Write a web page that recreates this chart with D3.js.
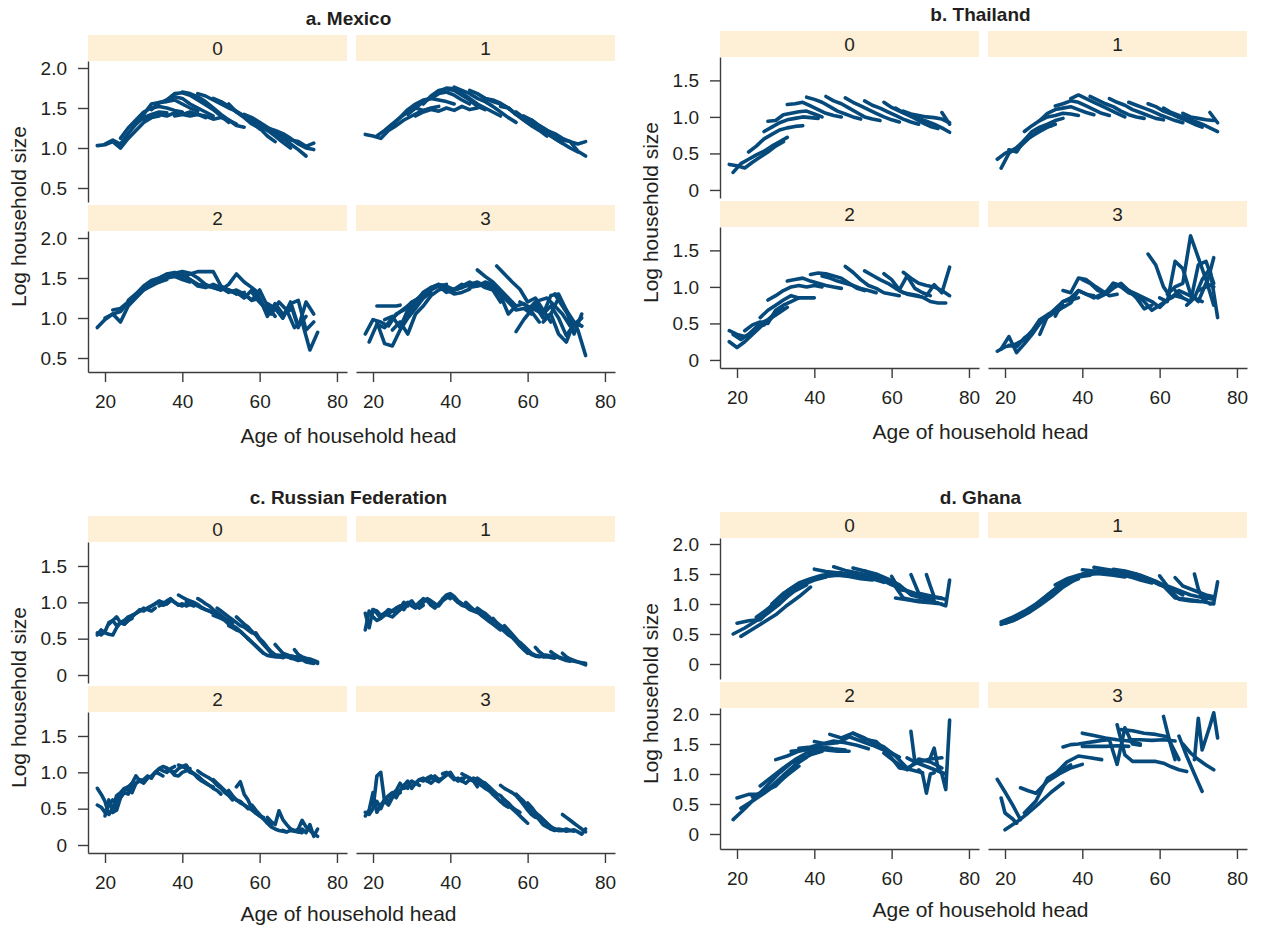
<!DOCTYPE html>
<html>
<head>
<meta charset="utf-8">
<script src="https://cdn.jsdelivr.net/npm/d3@7"></script>
<style>
body { margin:0; background:#fff; }
svg { display:block; }
text { font-family:"Liberation Sans", Arial, sans-serif; fill:#231f20; }
</style>
</head>
<body>
<div id="chart"></div>
<script>
// each line: [start age, age step, [log household size values]]
var mex0 = [
	[18,2,[1.03,1.04,1.08,1.00,1.12,1.22,1.32,1.38,1.40]],
	[20,2,[1.05,1.10,1.05,1.18,1.30,1.38,1.42,1.45,1.44]],
	[24,2,[1.12,1.25,1.35,1.45,1.50,1.52,1.50,1.47,1.45]],
	[28,2,[1.30,1.42,1.55,1.57,1.58,1.60,1.55,1.50,1.46]],
	[30,2,[1.36,1.38,1.42,1.40,1.44,1.42,1.40,1.42,1.38]],
	[32,2,[1.48,1.56,1.60,1.64,1.62,1.55,1.50,1.45,1.40]],
	[36,2,[1.60,1.68,1.69,1.66,1.60,1.54,1.48,1.40,1.32]],
	[38,2,[1.40,1.42,1.45,1.42,1.40,1.36,1.38,1.35,1.30]],
	[40,2,[1.70,1.68,1.64,1.58,1.50,1.42,1.35,1.28,1.26]],
	[44,2,[1.68,1.65,1.60,1.55,1.50,1.46,1.40,1.32,1.24]],
	[48,2,[1.62,1.58,1.52,1.45,1.38,1.30,1.25,1.15,1.08]],
	[52,2,[1.55,1.45,1.40,1.35,1.28,1.22,1.15,1.07,1.00]],
	[56,2,[1.42,1.38,1.32,1.26,1.20,1.12,1.05,0.98,0.90]],
	[58,2,[1.36,1.30,1.25,1.20,1.15,1.10,1.08,1.02,1.06]],
	[60,2,[1.30,1.25,1.22,1.18,1.12,1.05,1.00,0.98]]
];
var mex1 = [
	[18,2,[1.17,1.15,1.12,1.22,1.28,1.35,1.40,1.45,1.48]],
	[21,2,[1.15,1.22,1.30,1.38,1.45,1.50,1.47,1.50,1.52]],
	[25,2,[1.28,1.38,1.48,1.55,1.60,1.62,1.60,1.58,1.55]],
	[29,2,[1.42,1.50,1.58,1.62,1.68,1.70,1.66,1.60,1.55]],
	[31,2,[1.40,1.45,1.48,1.46,1.50,1.47,1.52,1.48,1.50]],
	[33,2,[1.55,1.65,1.72,1.74,1.72,1.66,1.60,1.52,1.48]],
	[37,2,[1.70,1.75,1.74,1.68,1.62,1.55,1.50,1.45,1.40]],
	[41,2,[1.76,1.72,1.68,1.62,1.58,1.52,1.45,1.38,1.32]],
	[45,2,[1.72,1.68,1.62,1.60,1.56,1.50,1.42,1.35,1.28]],
	[49,2,[1.62,1.58,1.55,1.50,1.42,1.35,1.28,1.22,1.15]],
	[53,2,[1.52,1.50,1.42,1.38,1.30,1.25,1.18,1.12,1.06]],
	[57,2,[1.45,1.38,1.32,1.25,1.20,1.12,1.06,1.00,0.95]],
	[59,2,[1.40,1.35,1.28,1.22,1.15,1.10,1.08,1.05,1.08]],
	[61,2,[1.35,1.28,1.22,1.18,1.12,1.08,0.96,0.90]]
];
var mex2 = [
	[18,2,[0.88,0.98,1.05,1.08,1.20,1.30,1.35,1.42,1.45]],
	[20,2,[1.00,1.05,0.95,1.15,1.25,1.35,1.40,1.45,1.48]],
	[22,2,[1.10,1.12,1.20,1.28,1.38,1.45,1.48,1.50,1.52]],
	[26,2,[1.22,1.30,1.40,1.47,1.50,1.55,1.52,1.48,1.45]],
	[30,2,[1.38,1.45,1.50,1.55,1.57,1.54,1.48,1.42,1.40]],
	[34,2,[1.45,1.50,1.56,1.58,1.56,1.50,1.42,1.38,1.35]],
	[38,2,[1.52,1.55,1.48,1.40,1.38,1.42,1.38,1.35,1.30]],
	[40,2,[1.50,1.55,1.58,1.58,1.58,1.40,1.35,1.30,1.32]],
	[44,2,[1.42,1.40,1.38,1.35,1.42,1.55,1.45,1.38,1.30]],
	[48,2,[1.40,1.38,1.32,1.35,1.30,1.22,1.35,1.15,1.02]],
	[52,2,[1.35,1.32,1.25,1.35,1.25,1.02,1.18,1.05,1.10]],
	[56,2,[1.30,1.22,1.25,1.05,1.15,1.00,1.20,0.90,1.02]],
	[58,2,[1.32,1.20,1.10,1.12,1.00,1.18,1.22,0.85,0.95]],
	[59,2,[1.25,1.15,1.05,1.20,1.10,0.88,0.95,0.60,0.82]],
	[62,2,[1.18,1.12,1.02,1.18,0.88,1.20,1.05]]
];
var mex3 = [
	[18,2,[0.80,0.98,0.95,0.90,1.05,1.10,1.20,1.25,1.30]],
	[19,2,[0.70,0.92,0.88,1.00,1.08,1.15,1.22,1.28]],
	[21,1,[1.15,1.15,1.15,1.15,1.15,1.15,1.16]],
	[21,2,[0.95,0.68,0.65,0.85,1.00,1.12,1.25,1.32]],
	[23,2,[0.98,1.02,0.88,1.10,1.20,1.32,1.38,1.40,1.42]],
	[25,2,[0.85,0.95,0.80,1.05,1.15,1.28,1.35,1.38]],
	[27,2,[0.90,1.05,1.15,1.25,1.35,1.40,1.32,1.35,1.38]],
	[29,2,[1.12,1.22,1.30,1.38,1.42,1.35,1.30,1.32,1.36]],
	[33,2,[1.30,1.38,1.42,1.40,1.35,1.38,1.42,1.45,1.40]],
	[37,2,[1.40,1.38,1.36,1.42,1.40,1.44,1.38,1.35,1.20]],
	[41,2,[1.35,1.40,1.45,1.40,1.42,1.38,1.28,1.05,1.15]],
	[45,2,[1.38,1.40,1.45,1.42,1.30,1.20,1.10,1.12,1.05]],
	[47,2,[1.60,1.52,1.45,1.35,1.25,1.15,1.18,1.08,0.95]],
	[52,2,[1.65,1.55,1.45,1.36,1.20,1.25,1.10,0.95]],
	[57,2,[0.83,0.98,1.10,1.22,1.25,1.15,1.05,0.90,0.95]],
	[58,2,[1.20,1.15,1.10,1.05,1.28,1.30,1.10,0.80,1.05]],
	[60,2,[1.10,1.20,1.05,1.15,1.00,0.78,0.92,1.00]],
	[62,2,[1.15,1.00,1.05,1.25,1.10,0.95,0.90]],
	[64,2,[0.95,1.05,0.80,0.70,0.95,0.90]],
	[67,2,[1.30,1.15,1.00,0.85,0.53]]
];

var tha0 = [
	[18,2,[0.35,0.33,0.30,0.38,0.45,0.52,0.60,0.66]],
	[19,2,[0.24,0.36,0.42,0.48,0.53,0.60,0.66,0.72]],
	[23,2,[0.52,0.60,0.70,0.76,0.82,0.85,0.87,0.88]],
	[27,2,[0.80,0.86,0.92,0.96,0.98,1.00,0.99,0.98]],
	[28,2,[0.94,0.95,1.03,1.05,1.07,1.08,1.04,1.00]],
	[33,2,[1.17,1.18,1.20,1.15,1.10,1.05,1.02,1.00]],
	[38,2,[1.27,1.24,1.20,1.14,1.08,1.04,1.00,0.97]],
	[43,2,[1.28,1.22,1.18,1.12,1.06,1.00,0.97,0.95]],
	[48,2,[1.26,1.20,1.15,1.10,1.05,1.00,0.96,0.93]],
	[53,2,[1.22,1.16,1.12,1.07,1.02,0.97,0.93,0.90]],
	[58,2,[1.20,1.13,1.08,1.03,0.98,0.92,0.87,0.84]],
	[61,2,[1.12,1.06,1.02,0.98,0.94,0.90,0.85,0.79]],
	[63,2,[1.08,1.04,1.02,1.00,0.99,0.97,0.92]],
	[73,2,[1.06,0.90]]
];
var tha1 = [
	[18,2,[0.42,0.50,0.55,0.60,0.70,0.78,0.85,0.88]],
	[19,2,[0.30,0.50,0.58,0.68,0.74,0.80,0.86,0.90]],
	[21,2,[0.55,0.52,0.68,0.80,0.86,0.90,0.95,0.98]],
	[25,2,[0.80,0.88,0.95,1.00,1.02,1.05,1.04,1.02]],
	[29,2,[0.95,1.05,1.10,1.12,1.14,1.10,1.06,1.03]],
	[33,2,[1.15,1.18,1.22,1.20,1.15,1.10,1.05,1.02]],
	[37,2,[1.25,1.30,1.25,1.20,1.15,1.10,1.05,1.00]],
	[42,2,[1.28,1.23,1.18,1.14,1.08,1.03,1.00,0.98]],
	[47,2,[1.25,1.20,1.16,1.10,1.06,1.02,0.98,0.96]],
	[52,2,[1.20,1.16,1.12,1.08,1.03,0.99,0.95,0.92]],
	[57,2,[1.18,1.14,1.08,1.04,0.99,0.95,0.90,0.86]],
	[61,2,[1.12,1.06,1.02,0.98,0.94,0.90,0.85,0.80]],
	[66,2,[1.05,1.00,0.98,0.96,0.95]],
	[73,2,[1.06,0.92]]
];
var tha2 = [
	[18,2,[0.40,0.35,0.32,0.38,0.50,0.55,0.62,0.70]],
	[18,2,[0.25,0.17,0.25,0.35,0.45,0.55,0.65,0.70]],
	[19,2,[0.35,0.28,0.35,0.45,0.48,0.58,0.65,0.72]],
	[22,2,[0.40,0.48,0.52,0.50,0.68,0.75,0.80,0.85]],
	[26,2,[0.58,0.68,0.75,0.82,0.88,0.85,0.85,0.85]],
	[28,2,[0.82,0.88,0.95,1.00,1.02,1.00,1.02,1.00]],
	[33,2,[1.08,1.10,1.12,1.08,1.05,1.02,1.00,0.98]],
	[39,2,[1.17,1.19,1.18,1.15,1.12,1.05,0.98,0.95]],
	[42,2,[1.15,1.12,1.08,1.05,1.02,0.98,0.95,0.92]],
	[48,2,[1.28,1.20,1.10,1.02,0.98,0.92,0.90,0.88]],
	[53,2,[1.22,1.16,1.10,1.05,0.98,0.92,0.90,0.88]],
	[58,2,[1.18,1.10,0.96,1.15,0.98,0.92,0.88]],
	[63,2,[1.20,1.12,1.05,1.02,1.00,0.95,0.88]],
	[62,2,[0.95,0.90,0.88,0.86,0.80,0.78,0.78]],
	[69,2,[0.88,1.03,0.92,1.27]]
];
var tha3 = [
	[18,2,[0.12,0.18,0.20,0.25,0.30,0.45,0.55,0.62]],
	[19,2,[0.15,0.32,0.10,0.22,0.35,0.50,0.60]],
	[21,2,[0.20,0.18,0.30,0.38,0.55,0.62,0.68,0.75]],
	[25,2,[0.28,0.40,0.55,0.60,0.70,0.80,0.82,0.85]],
	[29,2,[0.35,0.60,0.65,0.72,0.78,0.95,0.90,0.88]],
	[33,2,[0.60,0.80,0.85,0.95,0.90,0.85,0.90,0.95]],
	[35,2,[0.95,0.92,1.12,1.10,1.02,0.95,0.88,0.90]],
	[40,2,[1.10,1.05,0.95,0.92,1.05,1.02,0.95,0.88]],
	[44,2,[0.85,0.90,0.98,1.05,0.95,0.85,0.70,0.75]],
	[48,2,[1.05,1.00,0.92,0.88,0.80,0.68,0.75,0.82]],
	[52,2,[0.95,0.90,0.85,0.80,0.72,0.82,0.88,0.85]],
	[57,2,[1.45,1.30,1.00,0.85,0.95,0.90,0.85,0.80]],
	[60,2,[0.85,0.80,1.35,1.25,0.90,0.80,1.05,1.00]],
	[62,2,[0.90,1.00,1.05,1.70,1.40,1.10,0.75]],
	[64,2,[0.95,0.85,0.80,1.30,1.35,1.05]],
	[67,2,[0.75,0.85,1.10,1.25,0.58]],
	[70,2,[0.95,1.00,1.40]]
];

var rus0 = [
	[18,1,[0.58,0.55,0.60,0.72,0.75,0.68,0.72,0.75,0.80,0.82]],
	[18,1,[0.55,0.62,0.58,0.56,0.55,0.65,0.72,0.70,0.75,0.78]],
	[21,1,[0.70,0.75,0.80,0.72,0.70,0.75,0.80,0.85,0.88,0.90]],
	[24,1,[0.72,0.75,0.78,0.82,0.85,0.88,0.92,0.90,0.88,0.92]],
	[28,1,[0.85,0.90,0.88,0.92,0.95,0.98,1.00,0.96,0.98,1.02]],
	[31,1,[0.92,0.95,0.98,1.02,1.00,0.98,1.04,1.00,0.97,0.95]],
	[34,1,[0.95,0.98,1.02,1.05,1.00,0.96,0.98,0.95,0.97,0.95]],
	[39,1,[1.10,1.07,1.04,1.02,1.00,0.97,0.93,0.90,0.88,0.85]],
	[41,1,[1.00,0.98,0.97,0.95,0.92,0.90,0.88,0.85,0.82,0.80]],
	[44,1,[1.05,1.02,0.98,0.95,0.90,0.86,0.82,0.78,0.75,0.72]],
	[48,1,[0.82,0.80,0.78,0.75,0.70,0.68,0.65,0.60,0.55,0.50]],
	[49,1,[0.92,0.88,0.84,0.80,0.76,0.72,0.68,0.66,0.62,0.58]],
	[52,1,[0.68,0.65,0.62,0.60,0.55,0.50,0.45,0.40,0.35,0.30]],
	[54,1,[0.80,0.75,0.70,0.66,0.60,0.55,0.48,0.42,0.36,0.30]],
	[57,1,[0.50,0.45,0.40,0.35,0.30,0.27,0.26,0.25,0.25,0.24]],
	[59,1,[0.58,0.50,0.45,0.38,0.32,0.28,0.27,0.26,0.25,0.24]],
	[64,1,[0.42,0.36,0.30,0.28,0.26,0.25,0.24,0.22,0.21,0.20]],
	[65,1,[0.25,0.24,0.26,0.23,0.22,0.20,0.21,0.18,0.17,0.16]],
	[66,1,[0.28,0.27,0.26,0.25,0.24,0.22,0.21,0.20,0.18,0.16]],
	[69,1,[0.35,0.28,0.25,0.23,0.22,0.20,0.18]]
];
var rus1 = [
	[18,1,[0.85,0.65,0.90,0.88,0.82,0.85,0.90,0.88,0.92,0.95]],
	[18,1,[0.62,0.88,0.80,0.75,0.78,0.85,0.82,0.80,0.85,0.90]],
	[20,1,[0.90,0.85,0.78,0.82,0.85,0.88,0.85,0.92,1.00,0.95]],
	[24,1,[0.85,0.88,0.92,0.95,0.90,0.98,1.02,0.95,0.92,0.96]],
	[27,1,[0.90,0.95,1.00,0.95,0.92,0.96,1.00,1.05,1.02,0.98]],
	[31,1,[0.95,1.00,1.05,1.02,0.96,0.92,0.98,1.04,1.08,1.05]],
	[35,1,[1.00,0.98,0.95,1.02,1.06,1.10,1.05,1.00,0.98,0.95]],
	[38,1,[1.05,1.10,1.12,1.08,1.02,0.98,0.95,0.92,0.90,0.88]],
	[41,1,[1.05,1.00,0.96,0.94,0.90,0.88,0.86,0.83,0.80,0.76]],
	[44,1,[1.00,0.95,0.90,0.88,0.82,0.78,0.74,0.70,0.66,0.62]],
	[47,1,[0.92,0.88,0.85,0.80,0.75,0.72,0.65,0.60,0.55,0.52]],
	[51,1,[0.78,0.72,0.68,0.63,0.58,0.52,0.46,0.40,0.35,0.30]],
	[54,1,[0.68,0.62,0.56,0.50,0.44,0.38,0.32,0.28,0.26,0.25]],
	[58,1,[0.45,0.40,0.35,0.30,0.27,0.26,0.25,0.25,0.24,0.23]],
	[62,1,[0.38,0.32,0.28,0.27,0.26,0.25,0.24,0.22,0.20,0.19]],
	[66,1,[0.32,0.28,0.25,0.23,0.22,0.20,0.19,0.18,0.17,0.16]],
	[69,1,[0.30,0.25,0.22,0.20,0.18,0.16,0.14]]
];
var rus2 = [
	[18,1,[0.78,0.70,0.60,0.42,0.50,0.68,0.72,0.78,0.80,0.85]],
	[18,1,[0.55,0.52,0.45,0.55,0.62,0.58,0.70,0.75,0.78,0.82]],
	[20,1,[0.40,0.62,0.45,0.48,0.65,0.72,0.70,0.80,0.85,0.88]],
	[22,1,[0.45,0.55,0.65,0.75,0.80,0.72,0.85,0.90,0.88,0.92]],
	[26,1,[0.75,0.85,0.95,0.88,0.85,0.92,0.95,1.00,0.98,0.95]],
	[29,1,[0.88,0.90,0.95,0.92,1.00,1.05,1.02,1.00,1.05,1.08]],
	[33,1,[1.00,1.05,1.08,1.06,1.02,0.96,0.95,1.00,1.02,1.05]],
	[36,1,[1.05,1.02,1.00,1.05,1.08,1.10,1.02,0.98,0.95,0.90]],
	[39,1,[1.10,1.08,1.05,1.02,0.98,0.94,0.90,0.86,0.82,0.80]],
	[41,1,[1.05,1.00,0.98,0.92,0.88,0.85,0.82,0.78,0.75,0.70]],
	[44,1,[1.02,0.98,0.95,0.92,0.88,0.82,0.78,0.72,0.68,0.62]],
	[48,1,[0.90,0.85,0.80,0.75,0.70,0.65,0.62,0.58,0.55,0.50]],
	[52,1,[0.75,0.68,0.62,0.60,0.55,0.52,0.48,0.44,0.40,0.38]],
	[54,1,[0.80,0.87,0.70,0.62,0.50,0.44,0.40,0.36,0.32,0.28]],
	[58,1,[0.55,0.48,0.42,0.36,0.30,0.25,0.22,0.20,0.19,0.18]],
	[62,1,[0.38,0.32,0.28,0.47,0.35,0.28,0.22,0.19,0.18,0.17]],
	[66,1,[0.20,0.18,0.20,0.19,0.22,0.34,0.25,0.20,0.15,0.12]],
	[68,1,[0.22,0.20,0.18,0.22,0.17,0.28,0.12,0.22]]
];
var rus3 = [
	[18,1,[0.45,0.42,0.50,0.95,1.00,0.60,0.55,0.65,0.70,0.72]],
	[18,1,[0.40,0.48,0.72,0.45,0.55,0.62,0.58,0.70,0.75,0.72]],
	[20,1,[0.55,0.60,0.50,0.62,0.68,0.72,0.65,0.75,0.82,0.78]],
	[23,1,[0.65,0.58,0.68,0.75,0.85,0.78,0.80,0.88,0.85,0.82]],
	[27,1,[0.75,0.82,0.88,0.78,0.85,0.90,0.92,0.88,0.85,0.90]],
	[30,1,[0.80,0.85,0.90,0.88,0.92,0.95,0.90,0.87,0.92,0.96]],
	[34,1,[0.88,0.92,0.95,0.90,0.92,0.97,1.00,0.92,0.88,0.92]],
	[38,1,[0.98,1.00,0.95,0.90,0.92,0.88,0.85,0.90,0.88,0.80]],
	[41,1,[0.92,0.90,0.88,0.95,0.92,0.88,0.85,0.82,0.78,0.75]],
	[43,1,[0.98,0.95,0.92,0.90,0.92,0.88,0.85,0.80,0.75,0.70]],
	[46,1,[0.92,0.90,0.85,0.80,0.75,0.70,0.65,0.60,0.55,0.52]],
	[49,1,[0.85,0.80,0.75,0.70,0.68,0.62,0.58,0.52,0.48,0.45]],
	[51,1,[0.70,0.65,0.60,0.62,0.55,0.50,0.45,0.40,0.35,0.30]],
	[53,1,[0.82,0.78,0.75,0.72,0.68,0.62,0.55,0.48,0.42,0.38]],
	[57,1,[0.70,0.65,0.60,0.52,0.45,0.40,0.35,0.28,0.25,0.22]],
	[60,1,[0.58,0.52,0.45,0.40,0.35,0.30,0.25,0.22,0.20,0.20]],
	[63,1,[0.40,0.35,0.30,0.25,0.22,0.20,0.20,0.22,0.20,0.19]],
	[66,1,[0.22,0.20,0.22,0.21,0.19,0.20,0.21,0.18,0.15,0.22]],
	[69,1,[0.42,0.38,0.34,0.30,0.26,0.22,0.18]]
];

var gha0 = [
	[19,3,[0.50,0.60,0.72,0.85,1.00,1.18]],
	[20,3,[0.68,0.72,0.74,0.92,1.08,1.22,1.32]],
	[21,3,[0.46,0.58,0.70,0.82,0.98,1.12,1.28]],
	[25,3,[0.78,0.92,1.10,1.22,1.32,1.40,1.45]],
	[29,3,[1.00,1.18,1.30,1.38,1.45,1.50,1.52]],
	[33,3,[1.22,1.35,1.42,1.48,1.50,1.48,1.45]],
	[37,3,[1.35,1.42,1.46,1.48,1.46,1.42,1.40]],
	[40,3,[1.58,1.54,1.52,1.50,1.46,1.42,1.36]],
	[45,3,[1.62,1.56,1.52,1.48,1.42,1.32,1.25]],
	[50,3,[1.60,1.55,1.48,1.40,1.30,1.18,1.12]],
	[53,3,[1.55,1.50,1.42,1.32,1.15,1.10,1.06]],
	[57,3,[1.45,1.38,1.10,1.06,1.04,1.02]],
	[60,2,[1.46,1.24,1.22,1.18,1.15,1.12,1.10,1.08]],
	[61,3,[1.10,1.07,1.04,1.02,1.00]],
	[65,2,[1.49,1.18,1.15,1.12,1.10]],
	[69,1,[1.49,1.30,1.12]],
	[73,1,[0.99,0.97,1.40]]
];
var gha1 = [
	[19,3,[0.66,0.72,0.82,0.95,1.10,1.25]],
	[19,3,[0.70,0.78,0.88,1.00,1.15,1.30]],
	[20,3,[0.68,0.75,0.85,0.98,1.12,1.28,1.40]],
	[21,3,[0.72,0.80,0.92,1.05,1.20,1.35,1.42]],
	[24,3,[0.80,0.92,1.05,1.22,1.35,1.45,1.48]],
	[28,3,[0.98,1.15,1.30,1.42,1.48,1.50,1.52]],
	[33,3,[1.32,1.42,1.48,1.52,1.50,1.48,1.45]],
	[38,3,[1.45,1.52,1.55,1.52,1.48,1.45,1.40]],
	[40,3,[1.57,1.55,1.52,1.50,1.46,1.40,1.35]],
	[43,3,[1.61,1.58,1.55,1.50,1.45,1.38,1.30]],
	[48,3,[1.58,1.55,1.50,1.42,1.32,1.25,1.15]],
	[52,3,[1.52,1.48,1.40,1.30,1.10,1.08,1.05]],
	[56,3,[1.45,1.38,1.28,1.08,1.05,1.04,1.00]],
	[60,2,[1.47,1.30,1.25,1.20,1.15,1.12,1.10,1.08]],
	[64,2,[1.44,1.30,1.25,1.20,1.15,1.12]],
	[69,1,[1.50,1.25,1.10,1.05]],
	[73,1,[1.00,1.02,1.37]]
];
var gha2 = [
	[19,3,[0.24,0.42,0.62,0.82,1.02,1.18,1.30]],
	[20,3,[0.60,0.66,0.66,0.80,0.98,1.15,1.28]],
	[21,3,[0.43,0.55,0.68,0.82,0.98,1.13]],
	[24,3,[0.62,0.72,0.80,1.00,1.22,1.32,1.38]],
	[26,3,[0.80,0.95,1.10,1.24,1.35,1.40,1.42]],
	[30,3,[1.24,1.30,1.38,1.42,1.45,1.42,1.40]],
	[34,3,[1.38,1.40,1.42,1.40,1.38,1.38]],
	[36,3,[1.43,1.45,1.50,1.55,1.52,1.48,1.42]],
	[40,3,[1.54,1.50,1.52,1.62,1.55,1.48,1.40]],
	[44,3,[1.66,1.60,1.68,1.60,1.50,1.38,1.28]],
	[50,3,[1.68,1.58,1.54,1.35,1.10,1.07,1.02]],
	[55,3,[1.54,1.45,1.30,1.10,1.20,1.25,1.27]],
	[58,3,[1.35,1.20,1.07,1.25,1.20,1.10]],
	[64,2,[1.27,1.20,1.15,1.10,1.05,1.00]],
	[65,1,[1.71,1.21]],
	[67,1,[1.07,1.00,0.68,1.00,1.02]],
	[70,1,[1.27,1.43,1.10,1.00,0.74,1.90]]
];
var gha3 = [
	[18,2,[0.91,0.70,0.48,0.24]],
	[19,1,[0.60,0.35,0.30,0.25,0.18]],
	[20,3,[0.07,0.20,0.35,0.52,0.70,0.85]],
	[24,2,[0.77,0.72,0.68]],
	[25,3,[0.35,0.55,0.93,1.05,1.15]],
	[28,3,[0.68,0.88,1.00,1.10,1.16]],
	[33,3,[1.00,1.20,1.30,1.27,1.24]],
	[35,2,[1.45,1.49,1.50,1.52,1.54,1.56,1.57,1.16,1.77,1.50,1.48]],
	[40,3,[1.68,1.64,1.60,1.57,1.55,1.50]],
	[40,3,[1.46,1.46,1.46,1.47,1.46]],
	[49,2,[1.82,1.32,1.21,1.21,1.21,1.21,1.18,1.12,1.07,1.04]],
	[50,3,[1.74,1.72,1.68,1.66,1.62,1.24]],
	[52,3,[1.57,1.57,1.56,1.57,1.55]],
	[61,1,[1.96,1.70,1.45,1.24]],
	[65,2,[1.63,1.30,1.00,0.71]],
	[66,2,[1.50,1.35,1.24,1.15,1.07]],
	[69,1,[1.24,1.93,1.40,1.60,1.80,2.02,1.60]]
];

var facetLabels = ["0", "1", "2", "3"];
var ageTicks = [20, 40, 60, 80];
var ageDomain = [15.6, 82.6];

var L = { w:259, gap:9, strip:26, plot:141, rowGap:3 };

var panels = [
	{ title:"a. Mexico", x:88, y:35, titleY:25, labelGap:71, dom:[0.325, 2.0875], ticks:[0.5, 1, 1.5, 2], facets:[mex0, mex1, mex2, mex3] },
	{ title:"b. Thailand", x:720, y:31, titleY:21, labelGap:71, dom:[-0.11, 1.82], ticks:[0, 0.5, 1, 1.5], facets:[tha0, tha1, tha2, tha3] },
	{ title:"c. Russian Federation", x:88, y:516, titleY:504, labelGap:68, dom:[-0.11, 1.83], ticks:[0, 0.5, 1, 1.5], facets:[rus0, rus1, rus2, rus3] },
	{ title:"d. Ghana", x:720, y:512, titleY:504, labelGap:68, dom:[-0.25, 2.1], ticks:[0, 0.5, 1, 1.5, 2], facets:[gha0, gha1, gha2, gha3] }
];

var lineColor = "#064a7c";
var stripColor = "#fdf0d7";
var axisColor = "#3c3c3c";

var svg = d3.select("#chart").append("svg")
	.attr("width", 1264)
	.attr("height", 928);

var fmtY = function(d) { return d === 0 ? "0" : d3.format(".1f")(d); };

function toPoints(line) {
	var start = line[0], step = line[1];
	return line[2].map(function(v, i) { return [start + i * step, v]; });
}

function drawPanel(p) {
	var g = svg.append("g");
	var fullW = 2 * L.w + L.gap;

	g.append("text")
		.attr("x", p.x + fullW / 2 - 3)
		.attr("y", p.titleY)
		.attr("text-anchor", "middle")
		.style("font-size", "19px")
		.style("font-weight", "bold")
		.text(p.title);

	p.facets.forEach(function(lines, k) {
		var col = k % 2, row = Math.floor(k / 2);
		var fx = p.x + col * (L.w + L.gap);
		var fy = p.y + row * (L.strip + L.plot + L.rowGap);
		var top = fy + L.strip, bottom = top + L.plot;

		g.append("rect")
			.attr("x", fx).attr("y", fy)
			.attr("width", L.w).attr("height", L.strip)
			.attr("fill", stripColor);
		g.append("text")
			.attr("x", fx + L.w / 2).attr("y", fy + L.strip / 2)
			.attr("dy", "0.36em")
			.attr("text-anchor", "middle")
			.style("font-size", "19px")
			.text(facetLabels[k]);

		var x = d3.scaleLinear().domain(ageDomain).range([fx, fx + L.w]);
		var y = d3.scaleLinear().domain(p.dom).range([bottom, top]);

		var line = d3.line()
			.x(function(d) { return x(d[0]); })
			.y(function(d) { return y(d[1]); });

		g.append("g")
			.selectAll("path")
			.data(lines)
			.enter()
			.append("path")
				.attr("d", function(d) { return line(toPoints(d)); })
				.attr("fill", "none")
				.attr("stroke", lineColor)
				.attr("stroke-width", 3.6)
				.attr("stroke-linejoin", "round")
				.attr("stroke-linecap", "round");

		if (col === 0) {
			g.append("g")
				.attr("class", "axis y")
				.attr("transform", "translate(" + fx + ",0)")
				.call(d3.axisLeft(y).tickValues(p.ticks).tickFormat(fmtY).tickSize(10).tickSizeOuter(0).tickPadding(11));
		}
		if (row === 1) {
			g.append("g")
				.attr("class", "axis x")
				.attr("transform", "translate(0," + bottom + ")")
				.call(d3.axisBottom(x).tickValues(ageTicks).tickSize(10).tickSizeOuter(0).tickPadding(13));
		}
	});

	var axisBottom = p.y + 2 * (L.strip + L.plot) + L.rowGap;
	g.append("text")
		.attr("x", p.x + fullW / 2 - 3)
		.attr("y", axisBottom + p.labelGap)
		.attr("text-anchor", "middle")
		.style("font-size", "21px")
		.text("Age of household head");

	var plotTop = p.y + L.strip;
	g.append("text")
		.attr("transform", "translate(" + (p.x - 70) + "," + ((plotTop + axisBottom) / 2) + ") rotate(-90)")
		.attr("dy", "0.36em")
		.attr("text-anchor", "middle")
		.style("font-size", "21px")
		.text("Log household size");
}

panels.forEach(drawPanel);

svg.selectAll(".axis path, .axis line")
	.attr("stroke", axisColor)
	.attr("stroke-width", 1.4);
svg.selectAll(".axis text")
	.style("font-size", "19px")
	.style("font-family", "'Liberation Sans', Arial, sans-serif")
	.attr("fill", "#231f20");
</script>
</body>
</html>
